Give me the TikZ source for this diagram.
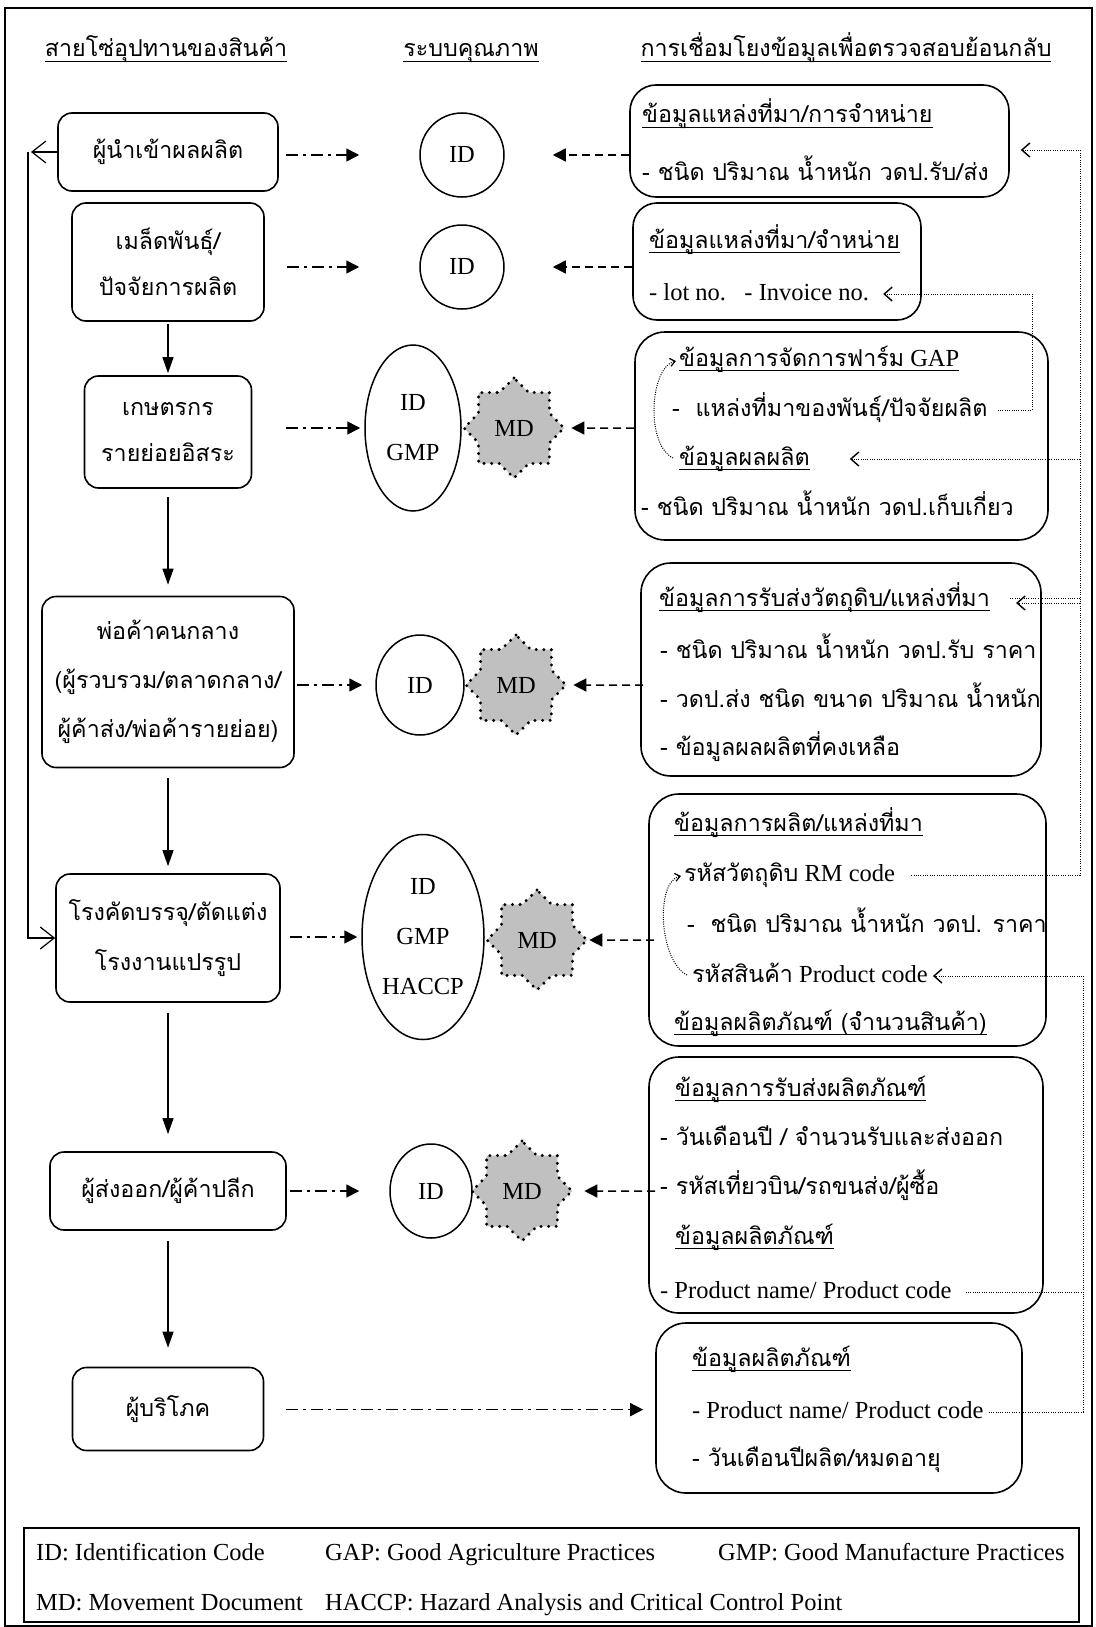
\documentclass[tikz,border=0pt]{standalone}
\usepackage{fontspec}
\setmainfont{Liberation Serif}
\newfontfamily\thaifont[Script=Thai,Scale=0.95]{Loma}
\usetikzlibrary{shapes.geometric,arrows.meta,calc}
\definecolor{mdgray}{RGB}{192,192,192}
\newcommand\thx[1]{{\thaifont #1}}
\newcommand\ulx[1]{\setbox0=\hbox{#1}\rlap{\raisebox{-5pt}{\rule{\wd0}{1.1pt}}}\box0}

\begin{document}
\begin{tikzpicture}[x=1pt,y=-1pt,
  every node/.style={font=\fontsize{24.5}{30}\selectfont},
  box/.style={draw, line width=1.6pt, rounded corners=14pt, align=center, inner sep=0pt,
    font=\thaifont\fontsize{24.5}{46}\selectfont},
  infobox/.style={draw, line width=1.6pt, rounded corners=30pt, inner sep=0pt},
  idshape/.style={draw, ellipse, line width=1.5pt, inner sep=0pt, align=center,
    font=\fontsize{24.5}{50}\selectfont},
  mdstar/.style={star, star points=8, star point ratio=1.3, minimum size=100pt, inner sep=0pt,
    fill=mdgray, draw, line width=3.3pt, dash pattern=on 0pt off 7.6pt, line cap=round},
  txt/.style={anchor=base west, inner sep=0pt},
  hdr/.style={anchor=base, inner sep=0pt, font=\thaifont\fontsize{24.5}{30}\selectfont},
  flow/.style={-{Triangle[length=16pt,width=11pt]}, line width=1.2pt},
  link/.style={-{Triangle[length=13pt,width=13pt]}, line width=1.5pt,
    dash pattern=on 12pt off 5pt on 3pt off 5pt},
  back/.style={-{Triangle[length=13pt,width=13pt]}, line width=1.5pt, dash pattern=on 8pt off 5pt},
  trace/.style={line width=1pt, dash pattern=on 1pt off 1.3pt},
  barb/.style={-{Straight Barb[length=8pt,width=14pt,line width=1.4pt]}},
  smallbarb/.style={-{Straight Barb[length=5pt,width=8pt,line width=1.2pt]}},
  loop/.style={line width=1.2pt, -{Straight Barb[length=14pt,width=22pt]}}
]
\useasboundingbox (0,0) rectangle (1095,1627);
\draw[line width=1.6pt] (5,8) rectangle (1092,1626);

% column headings
\node[hdr] (hd1) at (166,57) {\ulx{สายโซ่อุปทานของสินค้า}};
\node[hdr] (hd2) at (471,57) {\ulx{ระบบคุณภาพ}};
\node[hdr] (hd3) at (846,57) {\ulx{การเชื่อมโยงข้อมูลเพื่อตรวจสอบย้อนกลับ}};

% supply chain
\node[box, minimum width=220pt, minimum height=78pt] (b1) at (168,152) {ผู้นำเข้าผลผลิต};
\node[box, minimum width=192pt, minimum height=118pt] (b2) at (168,262) {เมล็ดพันธุ์/\\ปัจจัยการผลิต};
\node[box, minimum width=167pt, minimum height=112pt] (b3) at (168,432) {เกษตรกร\\รายย่อยอิสระ};
\node[box, minimum width=252pt, minimum height=171pt, font=\thaifont\fontsize{24.5}{49}\selectfont] (b4) at (168,682)
  {พ่อค้าคนกลาง\\(ผู้รวบรวม/ตลาดกลาง/\\ผู้ค้าส่ง/พ่อค้ารายย่อย)};
\node[box, minimum width=224pt, minimum height=128pt, font=\thaifont\fontsize{24.5}{50}\selectfont] (b5) at (168,938)
  {โรงคัดบรรจุ/ตัดแต่ง\\โรงงานแปรรูป};
\node[box, minimum width=236pt, minimum height=78pt] (b6) at (168,1191) {ผู้ส่งออก/ผู้ค้าปลีก};
\node[box, minimum width=191pt, minimum height=83pt] (b7) at (168,1409) {ผู้บริโภค};

\draw[flow, shorten <=2pt, shorten >=2pt] (b2) -- (b3);
\draw[flow, shorten <=8pt, shorten >=11pt] (b3) -- (b4);
\draw[flow, shorten <=10pt, shorten >=7pt] (b4) -- (b5);
\draw[flow, shorten <=10pt, shorten >=17pt] (b5) -- (b6);
\draw[flow, shorten <=10pt, shorten >=19pt] (b6) -- (b7);

\coordinate (lt) at (28,152);
\draw[loop, shorten >=3pt] (b1.west) -- (lt);
\draw[loop] (lt) |- (b5.west);

% quality system
\node[idshape, minimum width=84pt, minimum height=84pt] (c1) at (462,155) {ID};
\node[idshape, minimum width=84pt, minimum height=84pt] (c2) at (462,267) {ID};
\node[idshape, minimum width=96pt, minimum height=166pt] (e1) at (413,428) {ID\\GMP};
\node[mdstar] (s1) at (514,428) {MD};
\node[idshape, minimum width=88pt, minimum height=100pt] (c3) at (420,685) {ID};
\node[mdstar] (s2) at (516,685) {MD};
\node[idshape, minimum width=122pt, minimum height=205pt] (e2) at (423,937) {ID\\GMP\\HACCP};
\node[mdstar] (s3) at (537,940) {MD};
\node[idshape, minimum width=82pt, minimum height=94pt] (c4) at (431,1191) {ID};
\node[mdstar] (s4) at (522,1191) {MD};

\draw[link, shorten <=7pt, shorten >=60pt] (b1.east |- c1) -- (c1.west);
\draw[link, shorten <=22pt, shorten >=60pt] (b2.east |- c2) -- (c2.west);
\draw[link, shorten <=34pt, shorten >=4pt] (b3.east |- e1) -- (e1.west);
\draw[link, shorten <=2pt, shorten >=13pt] (b4.east |- c3) -- (c3.west);
\draw[link, shorten <=9pt, shorten >=4pt] (b5.east |- e2) -- (e2.west);
\draw[link, shorten <=3pt, shorten >=30pt] (b6.east |- c4) -- (c4.west);

% traceability information
\node[infobox, minimum width=379pt, minimum height=112pt, rounded corners=26pt] (r1) at (819.5,141) {};
\node[infobox, minimum width=288pt, minimum height=117pt, rounded corners=24pt] (r2) at (777,261.5) {};
\node[infobox, minimum width=413pt, minimum height=208pt] (r3) at (841.5,436) {};
\node[infobox, minimum width=400pt, minimum height=213pt] (r4) at (841,669.5) {};
\node[infobox, minimum width=397pt, minimum height=252pt] (r5) at (847.5,920) {};
\node[infobox, minimum width=394pt, minimum height=256pt] (r6) at (846,1185) {};
\node[infobox, minimum width=366pt, minimum height=170pt] (r7) at (839,1408) {};

\node[txt] (r1a) at (642,123) {\ulx{\thx{ข้อมูลแหล่งที่มา/การจำหน่าย}}};
\node[txt] (r1b) at (642,180) {\thx{- ชนิด ปริมาณ น้ำหนัก วดป.รับ/ส่ง}};
\node[txt] (r2a) at (649,248) {\ulx{\thx{ข้อมูลแหล่งที่มา/จำหน่าย}}};
\node[txt] (r2b) at (649,300) {- lot no.\ \ \ - Invoice no.};
\node[txt] (r3a) at (679,366) {\ulx{\thx{ข้อมูลการจัดการฟาร์ม} GAP}};
\node[txt] (r3b) at (672,416) {\thx{-\ \ แหล่งที่มาของพันธุ์/ปัจจัยผลิต}};
\node[txt] (r3c) at (679,465) {\ulx{\thx{ข้อมูลผลผลิต}}};
\node[txt] (r3d) at (641,515) {\thx{- ชนิด ปริมาณ น้ำหนัก วดป.เก็บเกี่ยว}};
\node[txt] (r4a) at (659,606) {\ulx{\thx{ข้อมูลการรับส่งวัตถุดิบ/แหล่งที่มา}}};
\node[txt] (r4b) at (660,658) {\thx{- ชนิด ปริมาณ น้ำหนัก วดป.รับ ราคา}};
\node[txt] (r4c) at (660,707) {\thx{- วดป.ส่ง ชนิด ขนาด ปริมาณ น้ำหนัก}};
\node[txt] (r4d) at (660,755) {\thx{- ข้อมูลผลผลิตที่คงเหลือ}};
\node[txt] (r5a) at (674,831) {\ulx{\thx{ข้อมูลการผลิต/แหล่งที่มา}}};
\node[txt] (r5b) at (684,881) {\thx{รหัสวัตถุดิบ} RM code};
\node[txt] (r5c) at (687,932) {\thx{-\ \ ชนิด ปริมาณ น้ำหนัก วดป. ราคา}};
\node[txt] (r5d) at (692,982) {\thx{รหัสสินค้า} Product code};
\node[txt] (r5e) at (674,1030) {\ulx{\thx{ข้อมูลผลิตภัณฑ์ (จำนวนสินค้า)}}};
\node[txt] (r6a) at (675,1096) {\ulx{\thx{ข้อมูลการรับส่งผลิตภัณฑ์}}};
\node[txt] (r6b) at (660,1145) {\thx{- วันเดือนปี / จำนวนรับและส่งออก}};
\node[txt] (r6c) at (660,1194) {\thx{- รหัสเที่ยวบิน/รถขนส่ง/ผู้ซื้อ}};
\node[txt] (r6d) at (675,1244) {\ulx{\thx{ข้อมูลผลิตภัณฑ์}}};
\node[txt] (r6e) at (660,1298) {- Product name/ Product code};
\node[txt] (r7a) at (692,1366) {\ulx{\thx{ข้อมูลผลิตภัณฑ์}}};
\node[txt] (r7b) at (692,1418) {- Product name/ Product code};
\node[txt] (r7c) at (692,1466) {\thx{- วันเดือนปีผลิต/หมดอายุ}};

\draw[back, shorten >=48pt] (r1.west |- c1) -- (c1.east);
\draw[back, shorten >=48pt] (r2.west |- c2) -- (c2.east);
\draw[back, shorten >=5pt] (r3.west |- s1) -- (s1.east);
\draw[back, shorten <=-3pt, shorten >=5pt] (r4.west |- s2) -- (s2.east);
\draw[back, shorten <=-6pt, shorten >=0pt] (r5.west |- s3) -- (s3.east);
\draw[back, shorten <=-7pt, shorten >=10pt] (r6.west |- s4) -- (s4.east);
\draw[link, shorten <=22pt, shorten >=12pt] (b7.east |- r7b) -- (r7.west |- r7b);

% dotted trace-back links
\coordinate (r2be) at ($(r2b.base east)+(0,-6)$);
\coordinate (r3be) at ($(r3b.base east)+(0,-6)$);
\coordinate (r3ce) at ($(r3c.base east)+(0,-6)$);
\coordinate (r4ae) at ($(r4a.base east)+(0,-8)$);
\coordinate (r4ai) at ($(r4a.base east)+(0,-3)$);
\coordinate (r5be) at ($(r5b.base east)+(0,-6)$);
\coordinate (r5de) at ($(r5d.base east)+(0,-6)$);
\coordinate (r6ee) at ($(r6e.base east)+(0,-6)$);
\coordinate (r7be) at ($(r7b.base east)+(0,-6)$);
\coordinate (v1) at (1080,150);
\coordinate (v2) at (1083,0);
\coordinate (v3) at (1032,0);

\draw[trace, barb, shorten <=16pt, shorten >=11pt] (r5be) -| (v1) -- (v1 -| r1.east);
\draw[trace, barb, shorten >=40pt] (v1 |- r3ce) -- (r3ce);
\draw[trace, shorten <=20pt] (r4ae) -- (v1 |- r4ae);
\draw[trace, barb, shorten >=26pt] (v1 |- r4ai) -- (r4ai);
\draw[trace, barb, shorten <=10pt, shorten >=14pt] (r3be) -| (v3 |- r2be) -- (r2be);
\draw[trace, barb, shorten <=5pt, shorten >=5pt] (r7be) -| (v2 |- r5de) -- (r5de);
\draw[trace, shorten <=14pt] (r6ee) -- (v2 |- r6ee);

\coordinate (g1) at ($(r3c.base west)+(-6,-7)$);
\coordinate (g2) at ($(r3a.base west)+(-3,-5)$);
\draw[trace, smallbarb] (g1) .. controls +(-28,-14) and +(-26,6) .. (g2);
\coordinate (h1) at ($(r5d.base west)+(-5,-7)$);
\coordinate (h2) at ($(r5b.base west)+(-3,-5)$);
\draw[trace, smallbarb] (h1) .. controls +(-28,-14) and +(-26,6) .. (h2);

% legend
\node[draw, line width=1.6pt, minimum width=1055pt, minimum height=94pt, inner sep=0pt] (legend) at (551.5,1575) {};
\node[txt] (l1) at (36,1560) {ID: Identification Code};
\node[txt] (l2) at (325,1560) {GAP: Good Agriculture Practices};
\node[txt] (l3) at (718,1560) {GMP: Good Manufacture Practices};
\node[txt] (l4) at (36,1610) {MD: Movement Document};
\node[txt] (l5) at (325,1610) {HACCP: Hazard Analysis and Critical Control Point};
\end{tikzpicture}
\end{document}
